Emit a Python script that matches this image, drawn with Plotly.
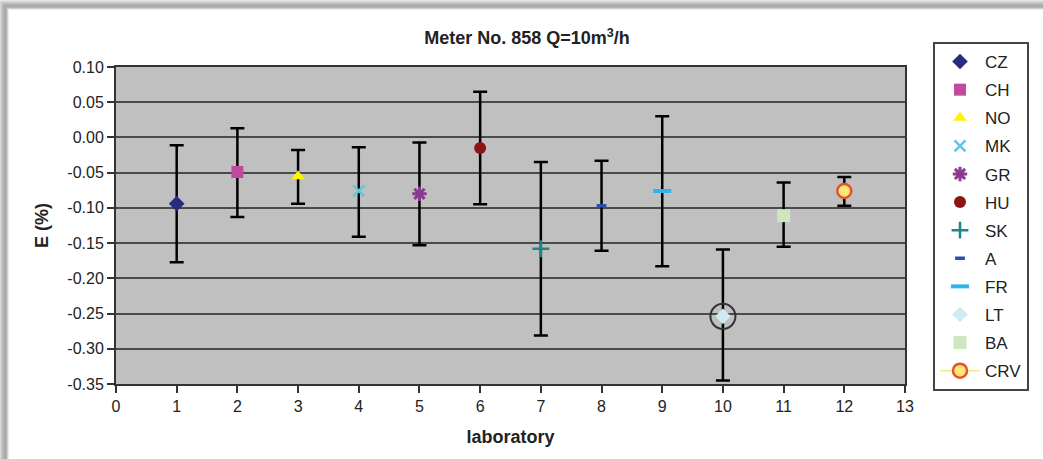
import plotly.graph_objects as go

# ---------------- data ----------------
labs_names = ["CZ", "CH", "NO", "MK", "GR", "HU", "SK", "A", "FR", "LT", "BA", "CRV"]
lab_no = [1, 2, 3, 4, 5, 6, 7, 8, 9, 10, 11, 12]
E_values = [-0.094, -0.049, -0.055, -0.076, -0.080, -0.015, -0.158, -0.097, -0.076, -0.254, -0.111, -0.076]
err_upper = [0.083, 0.062, 0.037, 0.062, 0.073, 0.080, 0.123, 0.064, 0.106, 0.095, 0.047, 0.020]
err_lower = [0.083, 0.064, 0.039, 0.065, 0.073, 0.080, 0.123, 0.064, 0.107, 0.091, 0.044, 0.021]
highlight_index = 9  # LT circled in the reference

y_tickvals = [0.10, 0.05, 0.00, -0.05, -0.10, -0.15, -0.20, -0.25, -0.30, -0.35]
y_ticktext = ["0.10", "0.05", "0.00", "-0.05", "-0.10", "-0.15", "-0.20", "-0.25", "-0.30", "-0.35"]
x_tickvals = list(range(0, 14))

# ---------------- styles ----------------
styles = {
    "CZ":  dict(symbol="diamond", color="#2a2a80", size=12, line=dict(width=0)),
    "CH":  dict(symbol="square", color="#c04aa0", size=12, line=dict(width=0)),
    "NO":  dict(symbol="triangle-up", color="#fff200", size=12, line=dict(width=0)),
    "MK":  dict(symbol="x-thin", color="#5cc8e0", size=11, line=dict(width=2.5, color="#5cc8e0")),
    "GR":  dict(symbol="asterisk", color="#8a3a90", size=12, line=dict(width=3, color="#8a3a90")),
    "HU":  dict(symbol="circle", color="#8b1515", size=12, line=dict(width=0)),
    "SK":  dict(symbol="cross-thin", color="#1f8585", size=12, line=dict(width=2.5, color="#1f8585")),
    "A":   dict(symbol="line-ew", color="#2a4db0", size=7, line=dict(width=3.5, color="#2a4db0")),
    "FR":  dict(symbol="line-ew", color="#30b4ea", size=13, line=dict(width=4, color="#30b4ea")),
    "LT":  dict(symbol="diamond", color="#cfeaf5", size=12, line=dict(width=0)),
    "BA":  dict(symbol="square", color="#cde6bf", size=13, line=dict(width=0)),
    "CRV": dict(symbol="circle", color="#ffe87a", size=14, line=dict(width=2.5, color="#e8502a")),
}

FONT = "Liberation Sans, Arial, sans-serif"

fig = go.Figure()

for i, name in enumerate(labs_names):
    st = styles[name]
    mode = "lines+markers" if name == "CRV" else "markers"
    fig.add_trace(go.Scatter(
        x=[lab_no[i]], y=[E_values[i]],
        mode=mode, name=name, legendgroup=name,
        line=dict(color="#f2e98c", width=1.5),
        marker=dict(symbol=st["symbol"], color=st["color"], size=st["size"], line=st["line"]),
        error_y=dict(type="data", symmetric=False,
                     array=[err_upper[i]], arrayminus=[err_lower[i]],
                     color="#000000", thickness=2.5, width=7),
    ))

# circle highlighting LT
fig.add_trace(go.Scatter(
    x=[lab_no[highlight_index]], y=[E_values[highlight_index]],
    mode="markers", showlegend=False, hoverinfo="skip",
    marker=dict(symbol="circle-open", size=25, color="#333333", line=dict(width=2, color="#333333")),
))

# ---------------- frame decoration (shadow of picture card) ----------------
L, R, T, B = 116, 138, 67, 75
W, H = 1043, 459
pw, ph = W - L - R, H - T - B

def px_x(px):
    return (px - L) / pw

def px_y(py):
    return (H - B - py) / ph

shapes = []
shade = ["#e6e6e6", "#d8d8d8", "#cacaca", "#bdbdbd", "#b3b3b3", "#ababab", "#a8a8a8", "#b5b5b5", "#d0d0d0", "#ececec"]
for k, c in enumerate(shade):
    shapes.append(dict(type="rect", xref="paper", yref="paper", layer="below",
                       x0=px_x(0), x1=px_x(W), y0=px_y(k + 1), y1=px_y(k),
                       fillcolor=c, line=dict(width=0)))
for k, c in enumerate(shade[1:]):
    shapes.append(dict(type="rect", xref="paper", yref="paper", layer="below",
                       x0=px_x(k), x1=px_x(k + 1), y0=px_y(H), y1=px_y(k + 1),
                       fillcolor=c, line=dict(width=0)))

fig.update_layout(
    width=W, height=H,
    margin=dict(l=L, r=R, t=T, b=B, pad=0),
    paper_bgcolor="#ffffff",
    plot_bgcolor="#c0c0c0",
    font=dict(family=FONT, size=16, color="#222222"),
    title=dict(text="<b>Meter No. 858 Q=10m<sup>3</sup>/h</b>",
               font=dict(family=FONT, size=18, color="#222222"),
               x=527 / W, xanchor="center", y=1 - 38 / H, yanchor="middle"),
    showlegend=True,
    legend=dict(x=px_x(933), xanchor="left", y=px_y(42), yanchor="top",
                bgcolor="#ffffff", bordercolor="#444444", borderwidth=2,
                font=dict(family=FONT, size=17, color="#222222"),
                tracegroupgap=3, itemsizing="trace", itemwidth=40,
                maxheight=420),
    shapes=shapes,
)

fig.update_xaxes(
    range=[0, 13], tickvals=x_tickvals, showgrid=False, zeroline=False,
    showline=True, linecolor="#333333", linewidth=2, mirror=True,
    ticks="outside", ticklen=7, tickwidth=2, tickcolor="#333333",
    tickfont=dict(family=FONT, size=16, color="#222222"),
    title=dict(text="<b>laboratory</b>", font=dict(family=FONT, size=18, color="#222222"), standoff=16),
)
fig.update_yaxes(
    range=[-0.35, 0.10], tickvals=y_tickvals, ticktext=y_ticktext,
    showgrid=True, gridcolor="#4a4a4a", gridwidth=2, zeroline=False,
    showline=True, linecolor="#333333", linewidth=2, mirror=True,
    ticks="outside", ticklen=7, tickwidth=2, tickcolor="#333333",
    tickfont=dict(family=FONT, size=16, color="#222222"),
    title=dict(text="<b>E (%)</b>", font=dict(family=FONT, size=18, color="#222222"), standoff=14),
)

fig.write_html("out.html")
